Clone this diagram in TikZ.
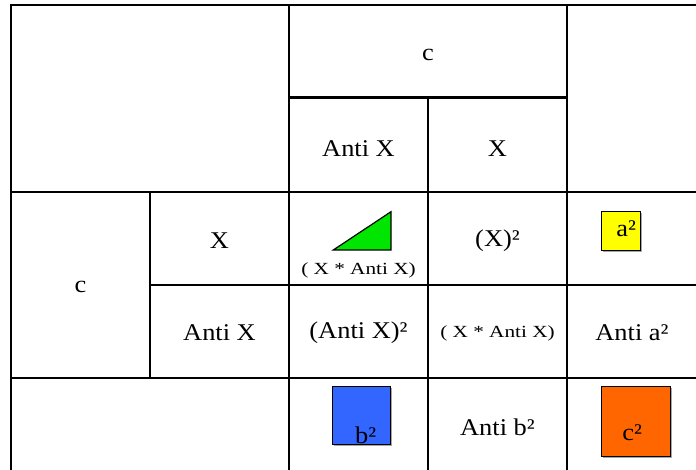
\documentclass[tikz,border=0pt]{standalone}
\usepackage{fontspec}
\setmainfont{Liberation Serif}
\newfontfamily\cellfont[FakeStretch=1.1]{Liberation Serif}
\newfontfamily\smallfont[FakeStretch=1.25]{Liberation Serif}
\usetikzlibrary{positioning}

\begin{document}
\begin{tikzpicture}[x=1pt,y=-1pt,
   rule/.style={line width=2.8pt,line cap=rect},
   cell/.style={font=\cellfont\fontsize{24}{28}\selectfont,inner sep=0pt},
   small/.style={font=\smallfont\fontsize{17}{20}\selectfont,inner sep=0pt},
   sq/.style={draw=black,line width=1.2pt,inner sep=0pt},
   shade/.style={fill=black!35}]
  \useasboundingbox (0,0) rectangle (696,470);
  % table rules
  \draw[rule] (696,5) -- (11,5) -- (11,470);
  \draw[rule] (289,97.5) -- (567,97.5);
  \draw[rule] (11,192) -- (696,192);
  \draw[rule] (150,285) -- (696,285);
  \draw[rule] (11,378) -- (696,378);
  \draw[rule] (150,192) -- (150,378);
  \draw[rule] (289,5) -- (289,470);
  \draw[rule] (428,97.5) -- (428,470);
  \draw[rule] (567,5) -- (567,470);
  % headers
  \node[cell] (ctop)  at (428,55)    {c};
  \node[cell] (hanti) at (358.5,149) {Anti X};
  \node[cell] (hx)    at (497.5,149) {X};
  \node[cell] (cleft) at (80.5,287)  {c};
  \node[cell] (rx)    at (219.5,241) {X};
  \node[cell] (ranti) at (219.5,333) {Anti X};
  % body
  \node[cell]  (xsq)   at (497.5,241) {(X)²};
  \node[cell]  (antisq) at (358.5,333) {(Anti X)²};
  \node[small] (prod2) at (497.5,333) {( X * Anti X)};
  \node[cell]  (antia) at (632,333)   {Anti a²};
  \node[cell]  (antib) at (497.5,427) {Anti b²};
  % triangle
  \coordinate (t1) at (333.3,250);
  \coordinate (t2) at (391,211.7);
  \coordinate (t3) at (391,250);
  \draw[sq,fill={rgb,255:red,0;green,230;blue,0},line join=miter] (t1) -- (t2) -- (t3) -- cycle;
  \node[small] (prod1) at (358.5,270) {( X * Anti X)};
  % squares
  \fill[shade] (602.7,212.7) rectangle (642,252);
  \node[sq,fill={rgb,255:red,255;green,255;blue,0},minimum size=39pt] (asq) at (621.3,231.3) {};
  \node[cell,anchor=base] (alab) at ([xshift=5pt,yshift=-5.5pt]asq.center) {a²};
  \fill[shade] (333.7,387.7) rectangle (392,446);
  \node[sq,fill={rgb,255:red,51;green,102;blue,255},minimum size=58pt] (bsq) at (361.8,415.8) {};
  \node[cell,anchor=base] (blab) at ([xshift=4pt,yshift=2pt]bsq.south) {b²};
  \fill[shade] (602.7,387.7) rectangle (671.7,457.7);
  \node[sq,fill={rgb,255:red,255;green,102;blue,0},minimum width=69pt,minimum height=70pt] (csq) at (636.2,421.7) {};
  \node[cell,anchor=base] (clab) at ([xshift=-4pt,yshift=17pt]csq.south) {c²};
\end{tikzpicture}
\end{document}
